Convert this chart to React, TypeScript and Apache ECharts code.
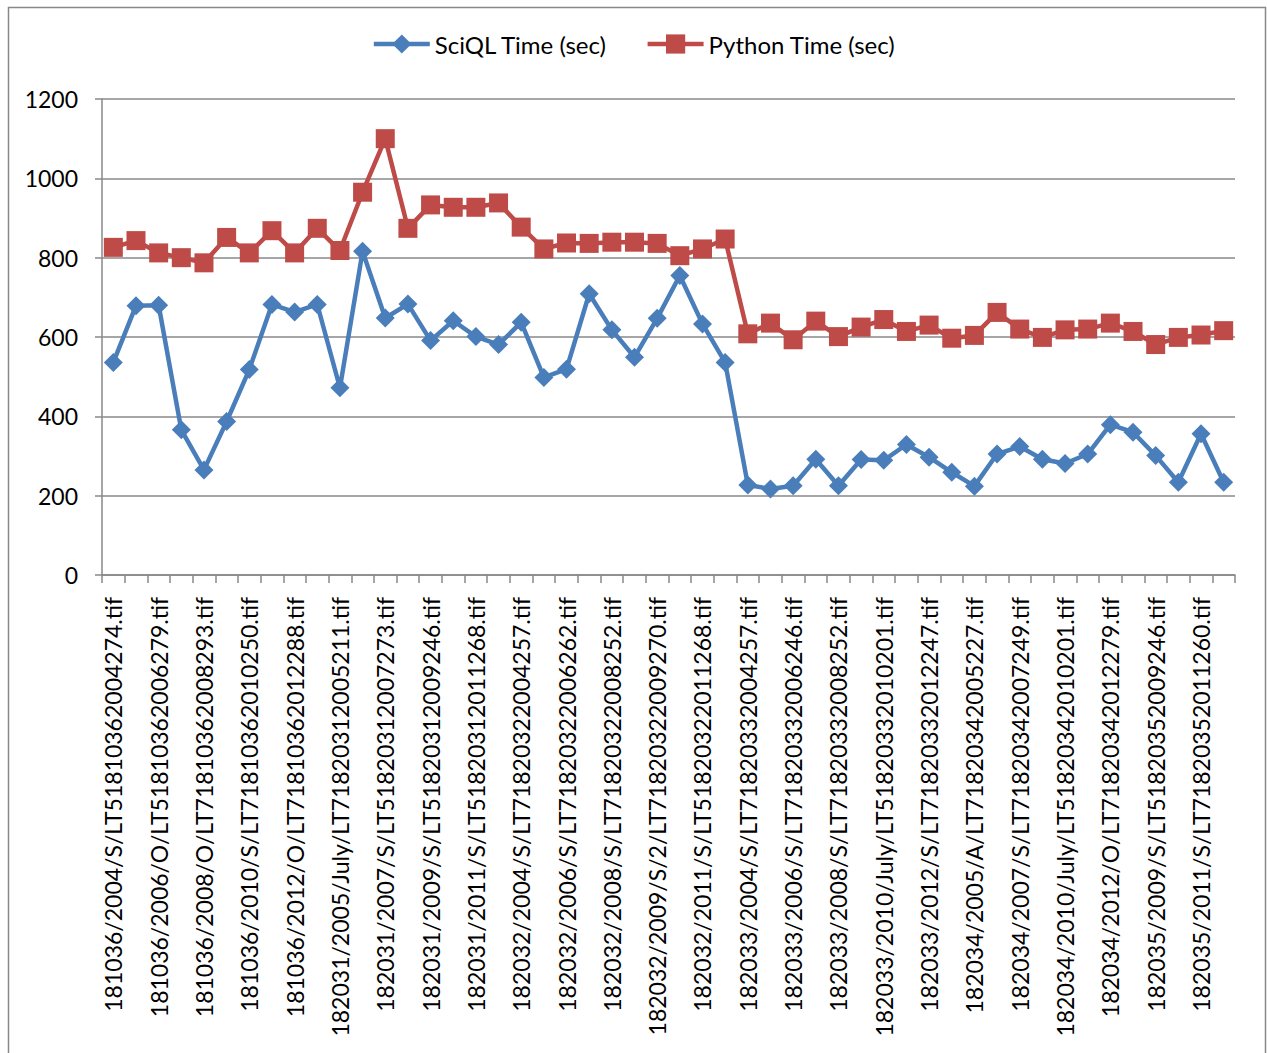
import React, { useEffect, useRef } from "react";
import * as echarts from "echarts";

// Scene file names (path/row / year / season / Landsat scene id)
const categories: string[] = [
  "181036/2004/S/LT51810362004274.tif",
  "181036/2005/S/LT51810362005261.tif",
  "181036/2006/O/LT51810362006279.tif",
  "181036/2007/S/LT51810362007264.tif",
  "181036/2008/O/LT71810362008293.tif",
  "181036/2009/S/LT51810362009253.tif",
  "181036/2010/S/LT71810362010250.tif",
  "181036/2011/S/LT51810362011272.tif",
  "181036/2012/O/LT71810362012288.tif",
  "182031/2004/S/LT51820312004258.tif",
  "182031/2005/July/LT71820312005211.tif",
  "182031/2006/S/LT51820312006254.tif",
  "182031/2007/S/LT51820312007273.tif",
  "182031/2008/S/LT51820312008260.tif",
  "182031/2009/S/LT51820312009246.tif",
  "182031/2010/S/LT51820312010265.tif",
  "182031/2011/S/LT51820312011268.tif",
  "182031/2012/S/LT71820312012255.tif",
  "182032/2004/S/LT71820322004257.tif",
  "182032/2005/S/LT51820322005243.tif",
  "182032/2006/S/LT71820322006262.tif",
  "182032/2007/S/LT51820322007273.tif",
  "182032/2008/S/LT71820322008252.tif",
  "182032/2009/S/1/LT51820322009246.tif",
  "182032/2009/S/2/LT71820322009270.tif",
  "182032/2010/S/LT51820322010249.tif",
  "182032/2011/S/LT51820322011268.tif",
  "182032/2012/S/LT71820322012247.tif",
  "182033/2004/S/LT71820332004257.tif",
  "182033/2005/S/LT51820332005243.tif",
  "182033/2006/S/LT71820332006246.tif",
  "182033/2007/S/LT51820332007273.tif",
  "182033/2008/S/LT71820332008252.tif",
  "182033/2009/S/LT51820332009246.tif",
  "182033/2010/July/LT51820332010201.tif",
  "182033/2011/S/LT51820332011268.tif",
  "182033/2012/S/LT71820332012247.tif",
  "182034/2004/S/LT71820342004257.tif",
  "182034/2005/A/LT71820342005227.tif",
  "182034/2006/S/LT51820342006246.tif",
  "182034/2007/S/LT71820342007249.tif",
  "182034/2009/S/LT51820342009246.tif",
  "182034/2010/July/LT51820342010201.tif",
  "182034/2011/S/LT51820342011268.tif",
  "182034/2012/O/LT71820342012279.tif",
  "182035/2008/S/LT51820352008244.tif",
  "182035/2009/S/LT51820352009246.tif",
  "182035/2010/S/LT51820352010249.tif",
  "182035/2011/S/LT71820352011260.tif",
  "182035/2012/S/LT71820352012247.tif",
];

const sciqlTimes: number[] = [
  536, 679, 680, 366, 265, 387, 518, 682, 663, 682,
  472, 816, 648, 683, 591, 641, 601, 581, 637, 498,
  519, 709, 618, 549, 647, 755, 633, 536, 227, 217,
  225, 292, 225, 291, 289, 329, 297, 259, 224, 305,
  324, 292, 281, 305, 379, 360, 301, 234, 356, 234,
];

const pythonTimes: number[] = [
  826, 843, 812, 800, 787, 851, 812, 868, 812, 874,
  818, 965, 1100, 874, 933, 927, 927, 938, 877, 822,
  837, 836, 839, 839, 836, 805, 822, 847, 608, 635,
  593, 640, 601, 625, 644, 614, 630, 597, 604, 662,
  620, 599, 618, 620, 635, 614, 581, 599, 605, 616,
];

const seriesNames = ["SciQL Time (sec)", "Python Time (sec)"];
const yMin = 0;
const yMax = 1200;
const yStep = 200;

const FONT = "Lato, 'Open Sans', sans-serif";
const AXIS_GRAY = "#888888";

export default function App() {
  const ref = useRef<HTMLDivElement>(null);

  useEffect(() => {
    if (!ref.current) return;
    const chart = echarts.init(ref.current, null, { renderer: "svg" });
    chart.setOption({
      animation: false,
      backgroundColor: "#ffffff",
      textStyle: { fontFamily: FONT, color: "#000" },
      graphic: [
        {
          type: "rect",
          left: 6,
          top: 5,
          shape: { width: 1257, height: 1070 },
          style: { fill: "none", stroke: AXIS_GRAY, lineWidth: 1.5 },
          silent: true,
        },
      ],
      legend: {
        top: 27,
        left: "center",
        itemWidth: 56,
        itemHeight: 24,
        itemGap: 38,
        lineStyle: { width: 4.5 },
        textStyle: { fontFamily: FONT, fontSize: 24, color: "#000" },
        data: seriesNames,
      },
      grid: { left: 102, right: 32, top: 99, bottom: 478, containLabel: false },
      xAxis: {
        type: "category",
        data: categories,
        boundaryGap: true,
        axisLine: { show: true, lineStyle: { color: AXIS_GRAY, width: 1.5 } },
        axisTick: { show: true, interval: 0, length: 8, lineStyle: { color: AXIS_GRAY, width: 1.5 } },
        axisLabel: {
          interval: 1,
          rotate: 90,
          margin: 22,
          fontFamily: FONT,
          fontSize: 23,
          color: "#000",
        },
        splitLine: { show: false },
      },
      yAxis: {
        type: "value",
        min: yMin,
        max: yMax,
        interval: yStep,
        axisLine: { show: true, lineStyle: { color: AXIS_GRAY, width: 1.5 } },
        axisTick: { show: true, length: 7, lineStyle: { color: AXIS_GRAY, width: 1.5 } },
        axisLabel: {
          margin: 24,
          fontFamily: FONT,
          fontSize: 23,
          color: "#000",
          formatter: (v: number) => String(v),
        },
        splitLine: { show: true, lineStyle: { color: AXIS_GRAY, width: 1.5 } },
      },
      series: [
        {
          name: seriesNames[0],
          type: "line",
          data: sciqlTimes,
          symbol: "diamond",
          symbolSize: 19,
          showAllSymbol: true,
          lineStyle: { color: "#4A7EBB", width: 4.5 },
          itemStyle: { color: "#4A7EBB" },
        },
        {
          name: seriesNames[1],
          type: "line",
          data: pythonTimes,
          symbol: "rect",
          symbolSize: 19,
          showAllSymbol: true,
          lineStyle: { color: "#BE4B48", width: 4.5 },
          itemStyle: { color: "#BE4B48" },
        },
      ],
    });
    return () => chart.dispose();
  }, []);

  return (
    <div
      ref={ref}
      style={{ position: "fixed", left: 0, top: 0, width: 1267, height: 1053 }}
    />
  );
}
